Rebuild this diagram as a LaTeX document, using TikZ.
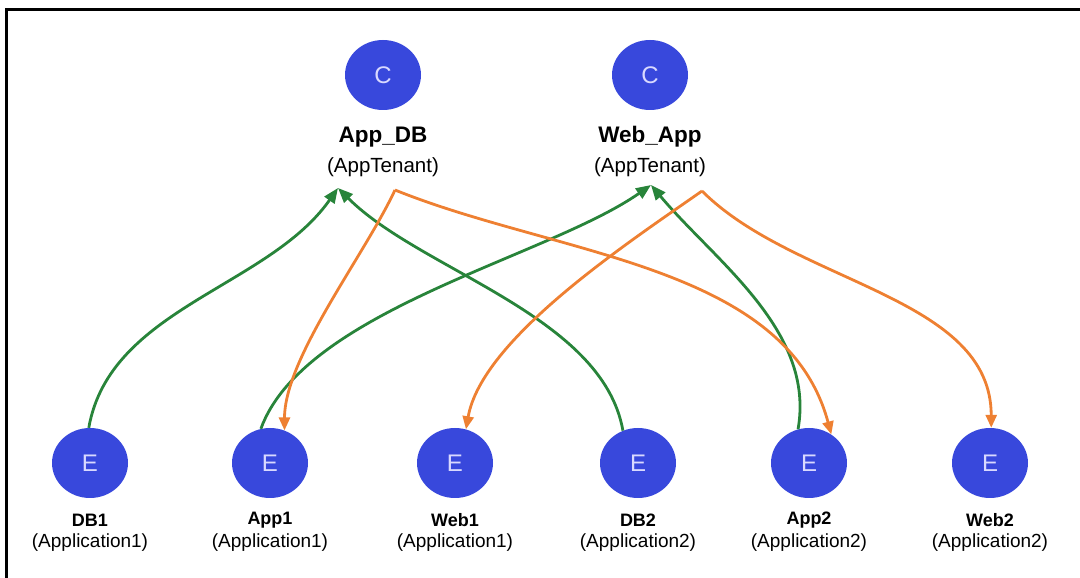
\documentclass[tikz,border=0pt]{standalone}
\usepackage{fontspec}
\setmainfont{Liberation Sans}
\usetikzlibrary{arrows.meta,shapes.geometric}

\definecolor{epgblue}{RGB}{56,72,220}
\definecolor{provgreen}{RGB}{40,132,58}
\definecolor{consorange}{RGB}{238,128,50}

\tikzset{
  ctr/.style={ellipse, fill=epgblue, minimum width=76pt, minimum height=70pt, inner sep=0pt,
    text=white!85!blue, font=\fontsize{24}{26}\selectfont},
  epg/.style={ctr},
  cname/.style={font=\fontsize{22.5}{24}\selectfont\bfseries, inner sep=0pt},
  ctenant/.style={font=\fontsize{20.5}{24}\selectfont, inner sep=0pt},
  ename/.style={font=\fontsize{18}{20}\selectfont\bfseries, inner sep=0pt},
  etenant/.style={font=\fontsize{19}{20}\selectfont, inner sep=0pt},
  prov/.style={draw=provgreen, line width=2.8pt, -{Triangle[length=15pt, width=12pt]}},
  cons/.style={draw=consorange, line width=2.8pt, -{Triangle[length=13pt, width=11pt]}}
}

\begin{document}
\begin{tikzpicture}[x=1pt, y=1pt]
  \useasboundingbox (0,0) rectangle (1080,578);
  \draw[line width=3pt] (6,0) -- (6,568) -- (1080,568);

  % contracts
  \node[ctr] (appdb) at (383,503) {C};
  \node[ctr] (webapp) at (650,503) {C};
  \node[cname] (appdbname) at (383,441) {App\_DB};
  \node[ctenant] (appdbten) at (383,411) {(AppTenant)};
  \node[cname] (webappname) at (650,441) {Web\_App};
  \node[ctenant] (webappten) at (650,411) {(AppTenant)};
  \coordinate (appdbin) at (338,390);
  \coordinate (appdbout) at (395,388);
  \coordinate (webappin) at (651,393);
  \coordinate (webappout) at (702,387);

  % endpoint groups
  \node[epg] (db1) at (90,115) {E};
  \node[epg] (app1) at (270,115) {E};
  \node[epg] (web1) at (455,115) {E};
  \node[epg] (db2) at (638,115) {E};
  \node[epg] (app2) at (809,115) {E};
  \node[epg] (web2) at (990,115) {E};
  \node[ename] (db1name) at (90,58) {DB1};
  \node[etenant] (db1ten) at (90,35) {(Application1)};
  \node[ename] (app1name) at (270,58) {App1};
  \node[etenant] (app1ten) at (270,35) {(Application1)};
  \node[ename] (web1name) at (455,58) {Web1};
  \node[etenant] (web1ten) at (455,35) {(Application1)};
  \node[ename] (db2name) at (638,58) {DB2};
  \node[etenant] (db2ten) at (638,35) {(Application2)};
  \node[ename] (app2name) at (809,58) {App2};
  \node[etenant] (app2ten) at (809,35) {(Application2)};
  \node[ename] (web2name) at (990,58) {Web2};
  \node[etenant] (web2ten) at (990,35) {(Application2)};

  % providers
  \draw[prov] (db1.92) to[out=80, in=235, looseness=0.9] (appdbin);
  \draw[prov] (db2.115) to[out=100, in=-45, looseness=0.8] (appdbin);
  \draw[prov] (app1.105) to[out=70, in=215, looseness=0.7] (webappin);
  \draw[prov] (app2.108) to[out=80, in=-50, looseness=0.9] (webappin);

  % consumers
  \draw[cons] (appdbout) to[out=245, in=90, looseness=0.7] (app1.66);
  \draw[cons] (appdbout) to[out=-22, in=105, looseness=0.9] (app2.52);
  \draw[cons] (webappout) to[out=215, in=80, looseness=0.7] (web1.72);
  \draw[cons] (webappout) to[out=-45, in=90, looseness=0.9] (web2.88);
\end{tikzpicture}
\end{document}
